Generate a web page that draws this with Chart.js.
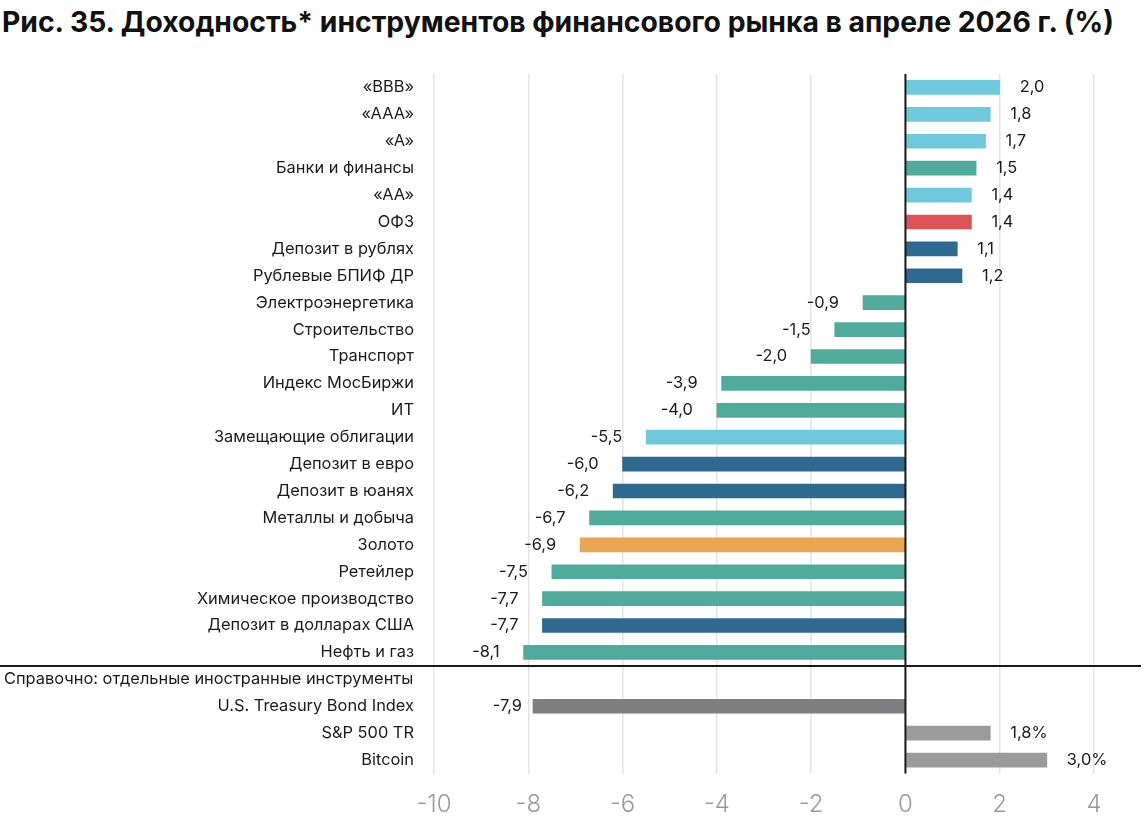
<!DOCTYPE html>
<html>
<head>
<meta charset="utf-8">
<script src="https://cdn.jsdelivr.net/npm/chart.js@4"></script>
<style>
  html, body { margin: 0; padding: 0; background: #fff; }
  .wrap { position: relative; width: 1144px; height: 836px; }
  .title {
    position: absolute; left: 2px; top: 5px;
    font-family: Inter, sans-serif; font-weight: 700; font-size: 28.3px;
    color: #111; letter-spacing: 0; white-space: nowrap;
  }
  canvas { position: absolute; left: 0; top: 0; }
</style>
</head>
<body>
<div class="wrap">
  <div class="title">Рис. 35. Доходность* инструментов финансового рынка в апреле 2026 г. (%)</div>
  <canvas id="chart" width="1144" height="836"></canvas>
</div>
<script>
// categories, top to bottom
const categories = [
  '«BBB»', '«AAA»', '«A»', 'Банки и финансы', '«AA»', 'ОФЗ',
  'Депозит в рублях', 'Рублевые БПИФ ДР', 'Электроэнергетика', 'Строительство',
  'Транспорт', 'Индекс МосБиржи', 'ИТ', 'Замещающие облигации', 'Депозит в евро',
  'Депозит в юанях', 'Металлы и добыча', 'Золото', 'Ретейлер',
  'Химическое производство', 'Депозит в долларах США', 'Нефть и газ',
  'Справочно: отдельные иностранные инструменты',
  'U.S. Treasury Bond Index', 'S&P 500 TR', 'Bitcoin'
]
const returns = [
  2.0, 1.8, 1.7, 1.5, 1.4, 1.4,
  1.1, 1.2, -0.9, -1.5,
  -2.0, -3.9, -4.0, -5.5, -6.0,
  -6.2, -6.7, -6.9, -7.5,
  -7.7, -7.7, -8.1,
  null,
  -7.9, 1.8, 3.0
]
const kinds = [
  'bond', 'bond', 'bond', 'sector', 'bond', 'ofz',
  'deposit', 'deposit', 'sector', 'sector',
  'sector', 'sector', 'sector', 'bond', 'deposit',
  'deposit', 'sector', 'gold', 'sector',
  'sector', 'deposit', 'sector',
  'note',
  'ust', 'foreign', 'foreign'
]
const suffixes = ['', '', '', '', '', '', '', '', '', '', '', '', '', '', '', '', '', '', '', '', '', '', '', '', '%', '%']
const xTicks = [-10, -8, -6, -4, -2, 0, 2, 4]
const noteIndex = 22

const palette = {
  bond: '#6ec9dd',
  sector: '#50ab9d',
  ofz: '#dc5256',
  deposit: '#2e6a8f',
  gold: '#e9a54f',
  ust: '#7e7e83',
  foreign: '#9b9b9b',
  note: 'transparent'
}

const FONT = 'Inter, sans-serif'
const LABEL_SIZE = 16.4

const extras = {
  id: 'extras',
  afterDatasetsDraw(chart) {
    const { ctx, chartArea, scales } = chart
    const x = scales.x, y = scales.y
    ctx.save()
    // zero line
    const x0 = x.getPixelForValue(0)
    ctx.strokeStyle = '#1a1a1a'
    ctx.lineWidth = 2
    ctx.beginPath()
    ctx.moveTo(x0, chartArea.top)
    ctx.lineTo(x0, chartArea.bottom)
    ctx.stroke()
    // separator before the reference block
    const ySep = (y.getPixelForValue(noteIndex - 1) + y.getPixelForValue(noteIndex)) / 2
    ctx.beginPath()
    ctx.moveTo(0, ySep)
    ctx.lineTo(1141, ySep)
    ctx.stroke()
    // note label
    ctx.fillStyle = '#1a1a1a'
    ctx.font = LABEL_SIZE + 'px ' + FONT
    ctx.textBaseline = 'middle'
    ctx.textAlign = 'left'
    ctx.fillText(categories[noteIndex], 4, y.getPixelForValue(noteIndex))
    // value labels
    const meta = chart.getDatasetMeta(0)
    meta.data.forEach((bar, i) => {
      const v = returns[i]
      if (v === null) return
      const txt = v.toFixed(1).replace('.', ',') + suffixes[i]
      if (v >= 0) {
        ctx.textAlign = 'left'
        ctx.fillText(txt, bar.x + 20, bar.y)
      } else {
        ctx.textAlign = 'right'
        ctx.fillText(txt, bar.x - (i === 23 ? 11 : 24), bar.y)
      }
    })
    ctx.restore()
  }
}

new Chart(document.getElementById('chart').getContext('2d'), {
  type: 'bar',
  data: {
    labels: categories,
    datasets: [{
      data: returns,
      backgroundColor: kinds.map(k => palette[k]),
      barThickness: 14,
      borderWidth: 0
    }]
  },
  options: {
    indexAxis: 'y',
    responsive: false,
    animation: false,
    layout: { padding: { top: 74, right: 50, left: 0, bottom: 0 } },
    plugins: {
      legend: { display: false },
      tooltip: { enabled: false }
    },
    scales: {
      x: {
        min: -10,
        max: 4,
        afterBuildTicks: s => { s.ticks = xTicks.map(v => ({ value: v })) },
        afterFit: s => { s.height = 62.5 },
        border: { display: false },
        grid: { color: '#e4e4e4', lineWidth: 1.5, drawTicks: false },
        ticks: {
          color: '#9a9a9a',
          padding: 17,
          font: { family: FONT, size: 24, weight: 300 },
          callback: v => String(v)
        }
      },
      y: {
        afterFit: s => { s.width = 434 },
        border: { display: false },
        grid: { display: false, drawTicks: false },
        ticks: {
          color: '#1a1a1a',
          padding: 20,
          autoSkip: false,
          font: { family: FONT, size: LABEL_SIZE },
          callback: (v, i) => i === noteIndex ? '' : categories[i]
        }
      }
    }
  },
  plugins: [extras]
})
</script>
</body>
</html>
